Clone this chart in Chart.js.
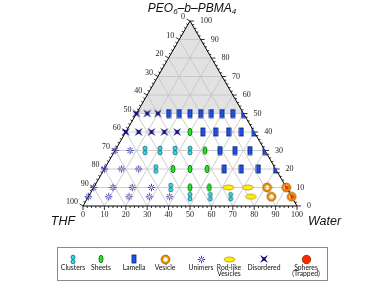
<!DOCTYPE html>
<html>
<head>
<meta charset="utf-8">
<script src="https://cdn.jsdelivr.net/npm/chart.js@4/dist/chart.umd.min.js"></script>
<style>
  body { margin: 0; background: #fff; }
  #wrap { width: 384px; height: 288px; }
</style>
</head>
<body>
<div id="wrap"><canvas id="phaseChart" width="384" height="288"></canvas></div>
<script>
// rows of constant polymer content (PEO6-b-PBMA4, wt%)
const polymer = [50, 40, 30, 20, 10, 5];
// water content of each sample, one list per row
const water = [
  [0, 5, 10, 15, 20, 25, 30, 35, 40, 45, 50],
  [0, 6, 12, 18, 24, 30, 36, 42, 48, 54, 60],
  [0, 7, 14, 21, 28, 35, 42, 49, 56, 63, 70],
  [0, 8, 16, 24, 32, 40, 48, 56, 64, 72, 80],
  [0, 9, 18, 27, 36, 45, 54, 63, 72, 81, 90],
  [0, 9.5, 19, 28.5, 38, 47.5, 57, 66.5, 76, 85.5, 95]
];
// observed morphology of each sample
const phase = [
  ["D", "D", "D", "L", "L", "L", "L", "L", "L", "L", "L"],
  ["D", "D", "D", "D", "D", "S", "L", "L", "L", "L", "L"],
  ["U", "U", "C", "C", "C", "C", "S", "L", "L", "L", "L"],
  ["U", "U", "U", "C", "S", "S", "S", "L", "L", "L", "L"],
  ["U", "U", "U", "U", "C", "S", "S", "R", "R", "V", "P"],
  ["U", "U", "U", "U", "U", "C", "C", "C", "R", "V", "P"]
];
const phaseCodes = ["C", "S", "L", "V", "U", "R", "D", "P"];
const phaseNames = ["Clusters", "Sheets", "Lamella", "Vesicle", "Unimers", "Rod-like\nVesicles", "Disordered", "Spheres\n(Trapped)"];
const tickValues = [0, 10, 20, 30, 40, 50, 60, 70, 80, 90, 100];

const S3 = Math.sqrt(3) / 2;
function toXY(w, p) {
  return { x: w + p / 2, y: p * S3 };
}

function marker(w, h, fn) {
  let c = document.createElement("canvas");
  c.width = w;
  c.height = h;
  fn(c.getContext("2d"), w / 2, h / 2);
  return c;
}

function ring(g, cx, cy, fill) {
  if (fill) {
    g.fillStyle = fill;
    g.beginPath();
    g.arc(cx + 0.8, cy + 0.4, 2.2, 0, 2 * Math.PI);
    g.fill();
  }
  g.strokeStyle = "#e88c00";
  g.lineWidth = 2.2;
  g.beginPath();
  g.arc(cx, cy, 3.4, 0, 2 * Math.PI);
  g.stroke();
  g.strokeStyle = "#8a5000";
  g.lineWidth = 0.6;
  g.beginPath();
  g.arc(cx, cy, 4.5, 0, 2 * Math.PI);
  g.stroke();
}

const markers = {
  C: marker(6, 11, (g, cx, cy) => {
    g.fillStyle = "#30e2e8";
    g.strokeStyle = "#0a5c70";
    g.lineWidth = 0.8;
    [cy - 2.2, cy + 2.2].forEach((yy) => {
      g.beginPath();
      g.ellipse(cx, yy, 2, 2.1, 0, 0, 2 * Math.PI);
      g.fill();
      g.stroke();
    });
  }),
  S: marker(6, 10, (g, cx, cy) => {
    g.fillStyle = "#22e622";
    g.strokeStyle = "#0b5a0b";
    g.lineWidth = 0.8;
    g.beginPath();
    g.ellipse(cx, cy, 2, 3.8, 0, 0, 2 * Math.PI);
    g.fill();
    g.stroke();
  }),
  L: marker(6, 10, (g, cx, cy) => {
    g.fillStyle = "#1f52ea";
    g.strokeStyle = "#0c1f70";
    g.lineWidth = 0.8;
    g.fillRect(cx - 2, cy - 4, 4, 8);
    g.strokeRect(cx - 2, cy - 4, 4, 8);
  }),
  V: marker(11, 11, (g, cx, cy) => ring(g, cx, cy, null)),
  U: marker(9, 9, (g, cx, cy) => {
    g.strokeStyle = "#3a3aa6";
    g.lineWidth = 1;
    for (let i = 0; i < 8; i++) {
      let a = (i * Math.PI) / 4;
      g.beginPath();
      g.moveTo(cx + Math.cos(a) * 1.1, cy + Math.sin(a) * 1.1);
      g.lineTo(cx + Math.cos(a) * 3.7, cy + Math.sin(a) * 3.7);
      g.stroke();
    }
  }),
  R: marker(13, 7, (g, cx, cy) => {
    g.fillStyle = "#fff000";
    g.strokeStyle = "#a88400";
    g.lineWidth = 0.7;
    g.beginPath();
    g.ellipse(cx, cy, 5.3, 2.5, 0, 0, 2 * Math.PI);
    g.fill();
    g.stroke();
  }),
  D: marker(10, 10, (g, cx, cy) => {
    let pts = [[-4, -4], [0, -1.4], [4, -4], [1.4, 0], [4, 4], [0, 1.4], [-4, 4], [-1.4, 0]];
    g.fillStyle = "#0a0a78";
    g.beginPath();
    pts.forEach((q, i) => (i ? g.lineTo(cx + q[0], cy + q[1]) : g.moveTo(cx + q[0], cy + q[1])));
    g.closePath();
    g.fill();
  }),
  P: marker(11, 11, (g, cx, cy) => ring(g, cx, cy, "#ff2a00"))
};

const legendMarkers = Object.assign({}, markers, {
  P: marker(11, 11, (g, cx, cy) => {
    g.fillStyle = "#ff2a00";
    g.strokeStyle = "#9a1a00";
    g.lineWidth = 0.8;
    g.beginPath();
    g.arc(cx, cy, 4.2, 0, 2 * Math.PI);
    g.fill();
    g.stroke();
  })
});

let datasets = phaseCodes.map((code, i) => {
  let pts = [];
  polymer.forEach((p, r) => {
    water[r].forEach((w, j) => {
      if (phase[r][j] == code) pts.push(toXY(w, p));
    });
  });
  return {
    label: phaseNames[i],
    data: pts,
    pointStyle: markers[code],
    pointRadius: 5,
    clip: false,
    clipEdge: code == "L"
  };
});

function pix(chart, w, p) {
  let q = toXY(w, p);
  return [chart.scales.x.getPixelForValue(q.x), chart.scales.y.getPixelForValue(q.y)];
}

function line(ctx, a, b) {
  ctx.beginPath();
  ctx.moveTo(a[0], a[1]);
  ctx.lineTo(b[0], b[1]);
  ctx.stroke();
}

const ternaryPlugin = {
  id: "ternary",
  beforeDatasetsDraw(chart) {
    let ctx = chart.ctx;
    ctx.save();
    // shaded region above 50 % polymer
    ctx.fillStyle = "#e2e2e2";
    ctx.beginPath();
    [pix(chart, 0, 50), pix(chart, 50, 50), pix(chart, 0, 100)].forEach((q, i) => (i ? ctx.lineTo(q[0], q[1]) : ctx.moveTo(q[0], q[1])));
    ctx.closePath();
    ctx.fill();

    // grid
    ctx.strokeStyle = "#c2c2c2";
    ctx.lineWidth = 0.8;
    for (let k = 10; k < 100; k += 10) {
      line(ctx, pix(chart, 0, k), pix(chart, 100 - k, k));
      line(ctx, pix(chart, k, 0), pix(chart, k, 100 - k));
      line(ctx, pix(chart, 100 - k, 0), pix(chart, 0, 100 - k));
    }

    // edges
    ctx.strokeStyle = "#000";
    ctx.lineWidth = 1;
    ctx.beginPath();
    [pix(chart, 0, 0), pix(chart, 100, 0), pix(chart, 0, 100)].forEach((q, i) => (i ? ctx.lineTo(q[0], q[1]) : ctx.moveTo(q[0], q[1])));
    ctx.closePath();
    ctx.stroke();

    // ticks
    ctx.lineWidth = 0.8;
    for (let k = 0; k <= 100; k += 2) {
      let len = k % 10 == 0 ? 4 : 2;
      let b = pix(chart, k, 0);
      line(ctx, b, [b[0], b[1] + len]);
      let r = pix(chart, 100 - k, k);
      line(ctx, r, [r[0] + len, r[1]]);
      let l = pix(chart, 0, k);
      line(ctx, l, [l[0] - len * 0.866, l[1] - len * 0.5]);
    }

    // tick labels
    ctx.fillStyle = "#222";
    ctx.font = "8px 'Liberation Serif'";
    ctx.textBaseline = "middle";
    tickValues.forEach((v) => {
      let b = pix(chart, v, 0);
      ctx.textAlign = "center";
      ctx.fillText(String(v), b[0], b[1] + 9);
      let r = pix(chart, 100 - v, v);
      ctx.textAlign = "left";
      ctx.fillText(String(v), r[0] + 10, r[1]);
      let l = pix(chart, 0, v);
      ctx.textAlign = "right";
      ctx.fillText(String(100 - v), l[0] - 5, l[1] - 4);
    });
    ctx.restore();
  },
  beforeDatasetDraw(chart, args) {
    if (!chart.data.datasets[args.index].clipEdge) return;
    let ctx = chart.ctx;
    let top = pix(chart, 0, 100);
    let right = pix(chart, 100, 0);
    ctx.save();
    ctx.beginPath();
    ctx.moveTo(top[0], top[1]);
    ctx.lineTo(right[0], right[1]);
    ctx.lineTo(0, right[1] + 20);
    ctx.lineTo(0, top[1]);
    ctx.closePath();
    ctx.clip();
  },
  afterDatasetDraw(chart, args) {
    if (chart.data.datasets[args.index].clipEdge) chart.ctx.restore();
  },
  afterDraw(chart) {
    let ctx = chart.ctx;
    ctx.save();
    ctx.fillStyle = "#111";
    ctx.textBaseline = "alphabetic";

    // title with subscripts
    let parts = [["PEO", 0], ["6", 1], ["\u2013b\u2013PBMA", 0], ["4", 1]];
    let big = "italic 12px 'Liberation Sans'";
    let small = "italic 8px 'Liberation Sans'";
    let total = 0;
    parts.forEach((pt) => {
      ctx.font = pt[1] ? small : big;
      total += ctx.measureText(pt[0]).width;
    });
    let x = 192 - total / 2;
    ctx.textAlign = "left";
    parts.forEach((pt) => {
      ctx.font = pt[1] ? small : big;
      ctx.fillText(pt[0], x, pt[1] ? 14 : 12);
      x += ctx.measureText(pt[0]).width;
    });

    // corner titles
    ctx.font = "italic 12.5px 'Liberation Sans'";
    ctx.textAlign = "center";
    ctx.fillText("THF", 63, 225);
    ctx.textAlign = "left";
    ctx.fillText("Water", 308, 225);

    // legend box
    ctx.strokeStyle = "#8a8a8a";
    ctx.lineWidth = 1;
    ctx.strokeRect(57.5, 247.5, 270, 33);
    let centers = [73, 101, 134, 165, 201, 229, 264, 306];
    ctx.font = "6.8px Lato";
    ctx.textAlign = "center";
    ctx.textBaseline = "middle";
    phaseCodes.forEach((code, i) => {
      let m = legendMarkers[code];
      ctx.drawImage(m, Math.round(centers[i] - m.width / 2), Math.round(259 - m.height / 2));
      phaseNames[i].split("\n").forEach((t, j) => {
        ctx.fillText(t, centers[i], 268 + j * 6.3);
      });
    });
    ctx.restore();
  }
};

var ctx = document.getElementById("phaseChart").getContext("2d");
var phaseChart = new Chart(ctx, {
  type: "scatter",
  data: { datasets: datasets },
  options: {
    responsive: false,
    animation: false,
    events: [],
    layout: { padding: { left: 83, right: 87, top: 21, bottom: 82 } },
    scales: {
      x: { type: "linear", min: 0, max: 100, display: false },
      y: { type: "linear", min: 0, max: 100 * S3, display: false }
    },
    plugins: {
      legend: { display: false },
      tooltip: { enabled: false }
    }
  },
  plugins: [ternaryPlugin]
});
</script>
</body>
</html>
